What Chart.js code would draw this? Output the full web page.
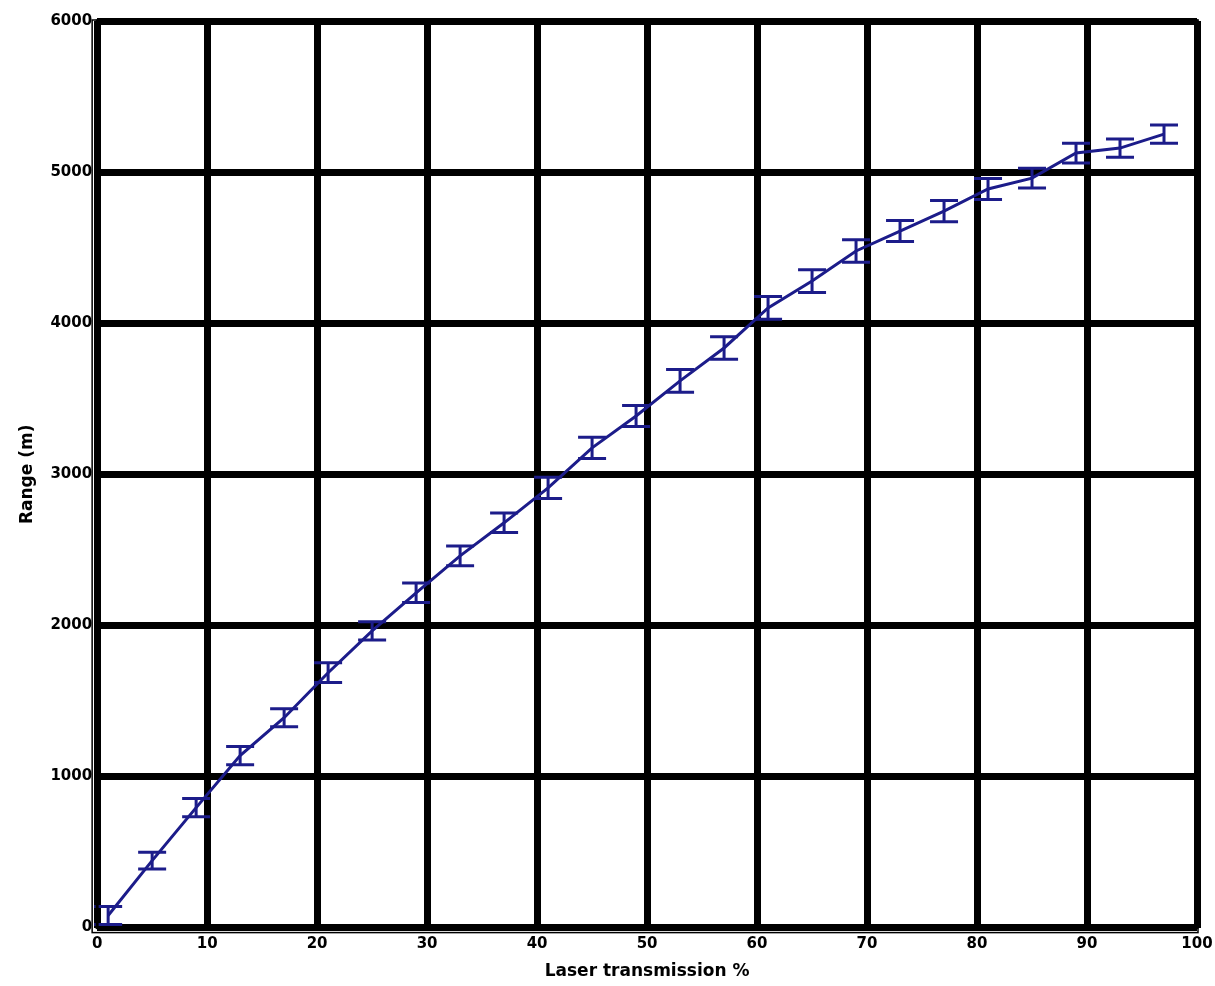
<!DOCTYPE html>
<html>
<head>
<meta charset="utf-8">
<script src="https://cdn.jsdelivr.net/npm/chart.js@4/dist/chart.umd.min.js"></script>
<style>
html,body{margin:0;padding:0;background:#fff;}
#wrap{width:1215px;height:986px;position:relative;}
</style>
</head>
<body>
<div id="wrap"><canvas id="c" width="1215" height="986"></canvas></div>
<script>
const transmission = [1,5,9,13,17,21,25,29,33,37,41,45,49,53,57,61,65,69,73,77,81,85,89,93,97];
const range = [80,443,794,1138,1389,1687,1964,2216,2460,2679,2910,3175,3386,3618,3836,4101,4279,4478,4610,4742,4888,4960,5126,5159,5251];
const rangeErr = [60,55,60,60,60,65,60,65,65,65,70,70,70,75,75,75,75,75,70,70,70,65,65,60,60];
const xTicks = [0,10,20,30,40,50,60,70,80,90,100];
const yTicks = [0,1000,2000,3000,4000,5000,6000];

const navy = '#1c1c8a';

const errorBars = {
  id:'errorBars',
  afterDatasetsDraw(chart){
    const {ctx, scales:{x,y}} = chart;
    ctx.save();
    ctx.strokeStyle = navy;
    ctx.lineWidth = 3;
    transmission.forEach((t,i)=>{
      const px = x.getPixelForValue(t);
      const top = y.getPixelForValue(range[i]+rangeErr[i]);
      const bot = y.getPixelForValue(range[i]-rangeErr[i]);
      const w = 14;
      ctx.beginPath();
      ctx.moveTo(px,top); ctx.lineTo(px,bot);
      ctx.moveTo(px-w,top); ctx.lineTo(px+w,top);
      ctx.moveTo(px-w,bot); ctx.lineTo(px+w,bot);
      ctx.stroke();
    });
    ctx.restore();
  }
};

const frame = {
  id:'frame',
  afterDraw(chart){
    const {ctx, chartArea:a} = chart;
    ctx.save();
    ctx.strokeStyle = '#000';
    ctx.lineWidth = 3;
    ctx.strokeRect(a.left, a.top, a.right-a.left, a.bottom-a.top);
    ctx.lineWidth = 1.5;
    ctx.strokeRect(a.left-5, a.top-1, a.right-a.left+6, a.bottom-a.top+6);
    ctx.restore();
  }
};

new Chart(document.getElementById('c'), {
  type:'line',
  data:{
    datasets:[{
      data: transmission.map((t,i)=>({x:t,y:range[i]})),
      borderColor: navy,
      borderWidth: 3,
      pointRadius: 0,
      tension: 0,
      fill:false
    }]
  },
  options:{
    responsive:false,
    animation:false,
    layout:{padding:{left:17,right:0,top:21,bottom:4}},
    plugins:{legend:{display:false},tooltip:{enabled:false}},
    scales:{
      x:{
        type:'linear', min:0, max:100,
        afterBuildTicks(s){ s.ticks = xTicks.map(v=>({value:v})); },
        afterFit(s){ s.paddingRight = 18; },
        grid:{color:'#000', lineWidth:7, drawTicks:false},
        border:{display:false},
        ticks:{color:'#000', font:{family:'DejaVu Sans', size:15, weight:'bold'}, padding:8, maxRotation:0, callback:v=>String(v)},
        title:{display:true, text:'Laser transmission %', color:'#000', font:{family:'DejaVu Sans', size:17, weight:'bold'}, padding:{top:0,bottom:0}}
      },
      y:{
        type:'linear', min:0, max:6000,
        afterBuildTicks(s){ s.ticks = yTicks.map(v=>({value:v})); },
        grid:{color:'#000', lineWidth:7, drawTicks:false},
        border:{display:false},
        ticks:{color:'#000', font:{family:'DejaVu Sans', size:15, weight:'bold'}, padding:5, callback:v=>String(v)},
        title:{display:true, text:'Range (m)', color:'#000', font:{family:'DejaVu Sans', size:17, weight:'bold'}, padding:{top:0,bottom:8}}
      }
    }
  },
  plugins:[errorBars, frame]
});
</script>
</body>
</html>
